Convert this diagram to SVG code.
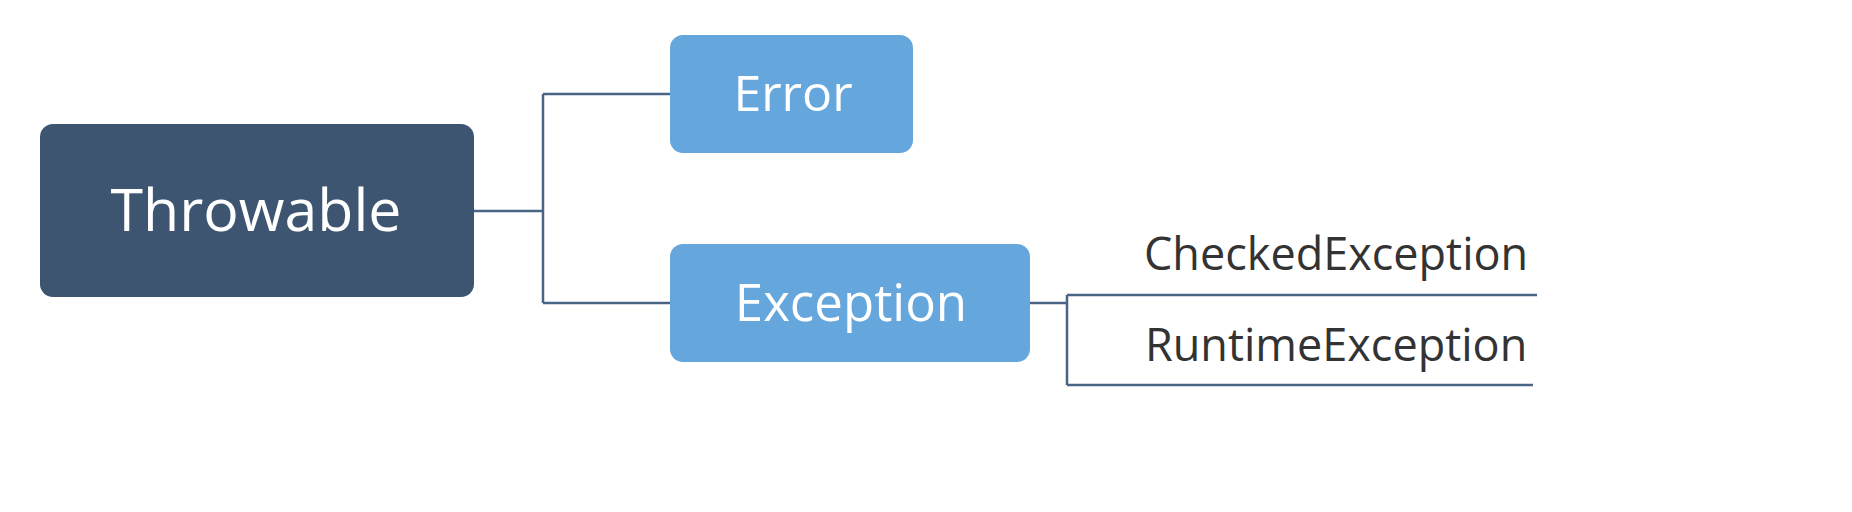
<svg xmlns="http://www.w3.org/2000/svg" width="1852" height="512" viewBox="0 0 1852 512">
<style>
.dark{fill:#3d5570}
.blue{fill:#65a6dd}
.lbl{font-family:"Open Sans","Noto Sans",sans-serif;fill:#ffffff;text-anchor:middle}
.leaf{font-family:"Open Sans","Noto Sans",sans-serif;fill:#333333}
.conn{fill:none;stroke:#4a6485;stroke-width:2.5}
</style>
<rect width="1852" height="512" fill="#ffffff"/>
<g id="connectors">
<path class="conn" d="M474,211 H543 M543,94 V303 M543,94 H670 M543,303 H670"/>
<path class="conn" d="M1030,303 H1067 M1067,295 V385 M1067,295 H1537 M1067,385 H1533"/>
</g>
<g id="throwable">
<rect class="dark" x="40" y="124" width="434" height="173" rx="13"/>
<text class="lbl" x="256" y="231" font-size="59">Throwable</text>
</g>
<g id="error">
<rect class="blue" x="670" y="35" width="243" height="118" rx="13"/>
<text class="lbl" x="793" y="111" font-size="50">Error</text>
</g>
<g id="exception">
<rect class="blue" x="670" y="244" width="360" height="118" rx="13"/>
<text class="lbl" x="851" y="321" font-size="51">Exception</text>
</g>
<g id="checked">
<text class="leaf" x="1144" y="270" font-size="45">CheckedException</text>
</g>
<g id="runtime">
<text class="leaf" x="1145" y="361" font-size="45">RuntimeException</text>
</g>
</svg>
